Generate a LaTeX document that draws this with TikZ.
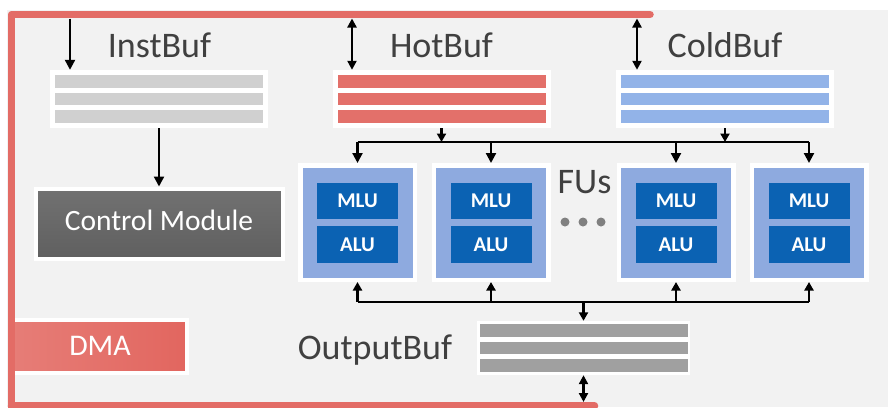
\documentclass[tikz,border=0pt]{standalone}
\usepackage{fontspec}
\setmainfont{Carlito}
\usetikzlibrary{arrows.meta,calc}
\definecolor{bg}{HTML}{F2F2F2}
\definecolor{framec}{HTML}{E36C66}
\definecolor{hotc}{HTML}{E3706A}
\definecolor{coldc}{HTML}{92B3E8}
\definecolor{instc}{HTML}{D0D0D0}
\definecolor{outc}{HTML}{A0A0A0}
\definecolor{ctrlc}{HTML}{6A6A6A}
\definecolor{fuc}{HTML}{8EAADF}
\definecolor{unitc}{HTML}{0B62B3}
\definecolor{lbl}{HTML}{404040}
\definecolor{dmac}{HTML}{E2665F}
\definecolor{dotc}{HTML}{808080}
\begin{document}
\begin{tikzpicture}[x=1pt,y=-1pt,
  buf/.style={fill=white, draw=none, inner sep=0pt, minimum width=218pt, minimum height=58pt,
    path picture={
      \foreach \dy in {-17.5,0,17.5}
        \fill[#1] ($(path picture bounding box.center)+(-104,\dy-6.25)$) rectangle ($(path picture bounding box.center)+(104,\dy+6.25)$);}},
  lab/.style={anchor=base, text=lbl, font=\fontsize{36}{40}\selectfont, inner sep=0pt},
  ctrlbox/.style={top color=ctrlc!95!white, bottom color=ctrlc!90!black, draw=white, line width=4pt, minimum width=247pt, minimum height=70pt,
    text=white, font=\fontsize{29.5}{32}\selectfont, text height=18pt, text depth=5pt, inner sep=0pt},
  fubox/.style={fill=fuc, draw=white, line width=4.5pt, minimum size=114.5pt, inner sep=0pt},
  unit/.style={fill=unitc, draw=none, minimum width=81pt, minimum height=36.5pt, inner sep=0pt,
    text=white, font=\bfseries\fontsize{21}{24}\selectfont, text height=13.5pt, text depth=0pt},
  dmabox/.style={left color=dmac!85!white, right color=dmac, draw=white, line width=4pt, minimum width=174pt, minimum height=53pt,
    inner sep=0pt, text=white, font=\fontsize{30}{32}\selectfont, text height=18.5pt, text depth=0pt},
  arr/.style={line width=2.2pt, -{Triangle[length=10pt,width=10pt]}},
  sarr/.style={line width=2.2pt, -{Triangle[length=8.5pt,width=9pt]}},
  dbl/.style={line width=2.2pt, {Triangle[length=9pt,width=9pt]}-{Triangle[length=9pt,width=9pt]}},
  bus/.style={line width=2.6pt},
  redline/.style={draw=framec, line width=7.5pt, line cap=round, line join=round}
]
\useasboundingbox (0,0) rectangle (888,407);
\fill[white] (0,0) rectangle (888,407);
\fill[bg] (7,10) rectangle (888,407);

% buffers
\node[buf=instc] (inst) at (159,99) {};
\node[buf=hotc]  (hot)  at (441.5,99) {};
\node[buf=coldc] (cold) at (725,99) {};
\node[buf=outc, minimum width=213pt, minimum height=54pt] (out) at (583.5,348) {};

% labels
\node[lab] (instl) at (159.5,57) {InstBuf};
\node[lab] (hotl)  at (441.5,57) {HotBuf};
\node[lab] (coldl) at (725,57) {ColdBuf};
\node[lab] (outl)  at (375,359) {OutputBuf};
\node[lab] (ful)   at (584.5,193) {FUs};

% control module
\node[ctrlbox] (ctrl) at (159,223.5) {Control Module};

% FUs
\foreach \i/\x in {1/357.5,2/491,3/676,4/809}{
  \node[fubox] (fu\i) at (\x,222.5) {};
  \node[unit] (mlu\i) at (\x,201) {MLU};
  \node[unit] (alu\i) at (\x,244.5) {ALU};
}

% dots
\foreach \x in {565,583,601}
  \fill[dotc] (\x,222) circle (4.5);

% DMA
\node[dmabox] (dma) at (100,346.5) {DMA};

% red frame
\draw[redline] (650,14.5) -- (11.5,14.5) -- (11.5,412);
\draw[redline] (11.5,405.75) -- (594.5,405.75);

% coordinates
\coordinate (iin) at (70,18.5);
\coordinate (hin) at (352,18.5);
\coordinate (cin) at (637,18.5);
\coordinate (tbus) at (357.5,142);
\coordinate (bbus) at (357.5,302);
\coordinate (botc) at (583.5,402);

% top arrows
\draw[arr] (iin) -- (iin |- inst.north);
\draw[dbl] (hin) -- (hin |- hot.north);
\draw[dbl] (cin) -- (cin |- cold.north);

% inst to control
\draw[arr] (inst.south) -- (ctrl.north);

% top bus
\draw[bus] (fu1.north |- tbus) -- (fu4.north |- tbus);
\draw[sarr] (hot.south) -- (hot.south |- tbus);
\draw[sarr] (cold.south) -- (cold.south |- tbus);
\foreach \i in {1,2,3,4}
  \draw[arr] (fu\i.north |- tbus) -- (fu\i.north);

% bottom bus
\draw[bus] (fu1.south |- bbus) -- (fu4.south |- bbus);
\foreach \i in {1,2,3,4}
  \draw[sarr] (fu\i.south |- bbus) -- (fu\i.south);
\draw[sarr] (out.north |- bbus) -- (out.north);
\draw[dbl] (out.south) -- (out.south |- botc);
\end{tikzpicture}
\end{document}
